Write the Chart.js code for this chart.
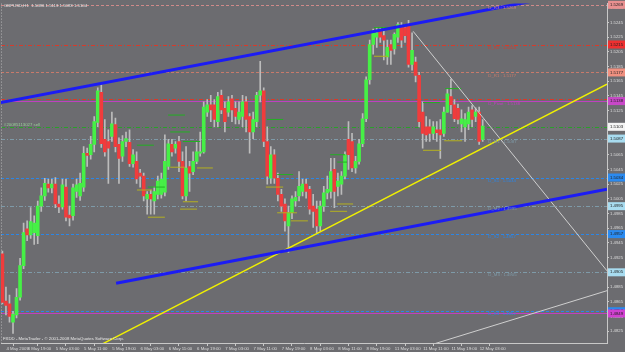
<!DOCTYPE html>
<html>
<head>
<meta charset="utf-8">
<script src="https://cdn.jsdelivr.net/npm/chart.js@4.4.1/dist/chart.umd.min.js"></script>
<style>
  html, body { margin: 0; padding: 0; background: #6c6c70; }
  #wrap { width: 625px; height: 352px; }
</style>
</head>
<body>
<div id="wrap"><canvas id="chart" width="625" height="352"></canvas></div>
<script>
// GBPUSD H1, one entry per hourly bar starting 4 May 2009 13:00
const opens = [1.4930,1.4866,1.4862,1.4837,1.4847,1.4871,1.4914,1.4964,1.4956,1.4959,
  1.4955,1.4995,1.5009,1.5025,1.5020,1.5025,1.4998,1.4994,1.5021,1.4983,
  1.4982,1.5015,1.5009,1.5021,1.5067,1.5065,1.5079,1.5109,1.5150,1.5086,
  1.5083,1.5090,1.5106,1.5079,1.5063,1.5083,1.5082,1.5053,1.5056,1.5040,
  1.5036,1.5005,1.5011,1.5002,1.5011,1.5011,1.5014,1.5049,1.5079,1.5074,
  1.5083,1.5056,1.5009,1.5049,1.5042,1.5056,1.5067,1.5069,1.5123,1.5133,
  1.5133,1.5110,1.5146,1.5128,1.5123,1.5141,1.5128,1.5113,1.5117,1.5137,
  1.5117,1.5096,1.5110,1.5146,1.5152,1.5083,1.5033,1.5065,1.5033,1.5011,
  1.4998,1.4968,1.4986,1.5002,1.5009,1.5015,1.5025,1.5018,1.4995,1.4991,
  1.4968,1.4995,1.5013,1.5015,1.5045,1.5022,1.5025,1.5036,1.5086,1.5083,
  1.5047,1.5056,1.5080,1.5114,1.5167,1.5215,1.5225,1.5233,1.5227,1.5198,
  1.5215,1.5209,1.5225,1.5241,1.5238,1.5242,1.5188,1.5191,1.5173,1.5123,
  1.5103,1.5103,1.5094,1.5099,1.5099,1.5094,1.5123,1.5144,1.5133,1.5128,
  1.5107,1.5103,1.5107,1.5126,1.5117,1.5123,1.5086];
const highs = [1.4934,1.4885,1.4874,1.4852,1.4883,1.4924,1.4972,1.4975,1.4993,1.4982,
  1.5002,1.5020,1.5033,1.5032,1.5032,1.5034,1.5009,1.5032,1.5032,1.4995,
  1.5025,1.5032,1.5040,1.5076,1.5074,1.5090,1.5117,1.5156,1.5160,1.5113,
  1.5099,1.5123,1.5115,1.5088,1.5091,1.5096,1.5099,1.5072,1.5069,1.5045,
  1.5040,1.5015,1.5017,1.5021,1.5036,1.5040,1.5092,1.5086,1.5086,1.5083,
  1.5090,1.5069,1.5076,1.5056,1.5069,1.5083,1.5096,1.5137,1.5140,1.5146,
  1.5140,1.5150,1.5153,1.5137,1.5144,1.5146,1.5137,1.5137,1.5146,1.5144,
  1.5121,1.5123,1.5150,1.5192,1.5156,1.5103,1.5076,1.5072,1.5040,1.5018,
  1.5005,1.4995,1.5009,1.5015,1.5042,1.5032,1.5032,1.5022,1.5011,1.5002,
  1.5002,1.5022,1.5036,1.5060,1.5060,1.5040,1.5042,1.5069,1.5110,1.5094,
  1.5063,1.5086,1.5121,1.5171,1.5221,1.5236,1.5238,1.5238,1.5238,1.5221,
  1.5221,1.5231,1.5245,1.5245,1.5242,1.5248,1.5231,1.5198,1.5177,1.5137,
  1.5117,1.5113,1.5110,1.5110,1.5113,1.5130,1.5155,1.5168,1.5140,1.5134,
  1.5126,1.5121,1.5130,1.5132,1.5129,1.5130,1.5113];
const lows = [1.4862,1.4847,1.4837,1.4822,1.4843,1.4867,1.4910,1.4948,1.4951,1.4943,
  1.4944,1.4988,1.5003,1.5014,1.5013,1.4993,1.4986,1.4991,1.4975,1.4968,
  1.4976,1.5007,1.5003,1.5015,1.5049,1.5059,1.5069,1.5103,1.5075,1.5063,
  1.5026,1.5083,1.5069,1.5026,1.5056,1.5076,1.5049,1.5048,1.5026,1.5021,
  1.5002,1.4984,1.4984,1.4984,1.5005,1.5006,1.5009,1.5045,1.5063,1.5067,
  1.5042,1.5005,1.5002,1.5015,1.5038,1.5053,1.5063,1.5067,1.5117,1.5110,
  1.5103,1.5103,1.5121,1.5096,1.5117,1.5110,1.5107,1.5107,1.5103,1.5096,
  1.5067,1.5087,1.5103,1.5137,1.5076,1.5025,1.5026,1.5026,1.5002,1.4988,
  1.4961,1.4932,1.4978,1.4995,1.5002,1.5009,1.5006,1.4984,1.4966,1.4959,
  1.4961,1.4988,1.5005,1.5006,1.4993,1.5009,1.5011,1.5032,1.5045,1.5042,
  1.5040,1.5052,1.5076,1.5110,1.5161,1.5202,1.5211,1.5218,1.5194,1.5188,
  1.5188,1.5202,1.5218,1.5211,1.5218,1.5184,1.5180,1.5164,1.5103,1.5074,
  1.5083,1.5083,1.5086,1.5083,1.5060,1.5090,1.5123,1.5121,1.5110,1.5107,
  1.5096,1.5083,1.5099,1.5103,1.5110,1.5079,1.5083];
const closes = [1.4864,1.4860,1.4845,1.4848,1.4871,1.4914,1.4959,1.4956,1.4974,1.4972,
  1.4995,1.5009,1.5026,1.5020,1.5025,1.4998,1.4994,1.5024,1.4980,1.4979,
  1.5020,1.5024,1.5026,1.5067,1.5064,1.5079,1.5110,1.5152,1.5080,1.5069,
  1.5074,1.5107,1.5076,1.5060,1.5083,1.5087,1.5053,1.5065,1.5032,1.5036,
  1.5009,1.5011,1.5005,1.5015,1.5029,1.5032,1.5056,1.5080,1.5069,1.5079,
  1.5056,1.5009,1.5047,1.5040,1.5056,1.5069,1.5069,1.5130,1.5133,1.5126,
  1.5113,1.5144,1.5126,1.5110,1.5137,1.5126,1.5117,1.5123,1.5137,1.5113,
  1.5096,1.5113,1.5146,1.5152,1.5083,1.5036,1.5065,1.5033,1.5011,1.4995,
  1.4975,1.4986,1.5005,1.5007,1.5022,1.5025,1.5015,1.4991,1.4988,1.4968,
  1.4995,1.5013,1.5018,1.5042,1.5015,1.5029,1.5036,1.5065,1.5065,1.5047,
  1.5056,1.5080,1.5114,1.5167,1.5215,1.5231,1.5231,1.5225,1.5221,1.5211,
  1.5207,1.5229,1.5242,1.5221,1.5227,1.5188,1.5207,1.5173,1.5110,1.5094,
  1.5092,1.5094,1.5103,1.5095,1.5092,1.5123,1.5148,1.5133,1.5114,1.5113,
  1.5114,1.5113,1.5123,1.5113,1.5123,1.5083,1.5104];

// time axis: bar index of each label
const timeTicks = [0, 6, 14, 22, 30, 38, 46, 54, 62, 70, 78, 86, 94, 102, 110, 118, 126, 134];
const timeLabels = ['4 May 2009', '4 May 19:00', '5 May 03:00', '5 May 11:00', '5 May 19:00',
  '6 May 03:00', '6 May 11:00', '6 May 19:00', '7 May 03:00', '7 May 11:00', '7 May 19:00',
  '8 May 03:00', '8 May 11:00', '8 May 19:00', '11 May 03:00', '11 May 11:00', '11 May 19:00',
  '12 May 03:00'];
const priceTicks = [1.5265, 1.5245, 1.5225, 1.5205, 1.5185, 1.5165, 1.5145, 1.5125, 1.5105,
  1.5085, 1.5065, 1.5045, 1.5025, 1.5005, 1.4985, 1.4965, 1.4945, 1.4925, 1.4905, 1.4885,
  1.4865, 1.4845, 1.4825];

// horizontal levels (pivot / fibo indicator + order line)
const levelPrices = [1.5269, 1.5215, 1.5177, 1.5141, 1.5138, 1.5103, 1.5087, 1.5034, 1.4995, 1.4957, 1.4905, 1.4852, 1.4849];
const levelNames = ['D_R3', 'D_R2', 'D_R1', '', 'D_Pivot', '', 'D_M1', 'D_S1', 'D_M2', 'D_S2', 'D_M3', 'D_S3', ''];

// trend lines as [bar, price, bar, price]
const upperChannel = [-0.5, 1.5136, 172, 1.5294];
const lowerChannel = [32.2, 1.4890, 171.2, 1.5018];
const yellowTrend = [28.5, 1.4808, 171.2, 1.5161];
const grayDown = [116.3, 1.5233, 171.2, 1.4907];
const grayUp = [122.5, 1.4808, 171.2, 1.4880];

// short indicator marks: [fromBar, toBar, price]
const greenMarks = [[38.1, 42.9, 1.5078], [46.9, 51.7, 1.5119], [47.5, 53.1, 1.5096], [51.1, 56, 1.5083],
  [41.2, 46, 1.5021], [74.9, 79.5, 1.5113], [92.8, 97, 1.5065], [94.8, 97.6, 1.5055],
  [77.8, 82.3, 1.5038], [105.2, 110.6, 1.5238], [125.4, 129.9, 1.5155], [119.1, 123.9, 1.5136]];
const oliveMarks = [[55.1, 59.6, 1.5047], [47.5, 51.7, 1.5048], [38.1, 42.4, 1.5017], [51.1, 55.4, 1.5001],
  [50.3, 55.1, 1.4991], [41.2, 46, 1.4980], [74.6, 79.5, 1.5021], [94.8, 99.3, 1.4998],
  [92.8, 97.6, 1.4988], [77.8, 83.4, 1.4986], [81.7, 86.5, 1.4975], [105.2, 109.2, 1.5199],
  [125.1, 130.2, 1.5084], [119.1, 124.2, 1.5071]];

const levelStyles = [
  { color: '#d08a8a', dash: [3, 2], box: '#e89090' },
  { color: '#d83a2a', dash: [4, 2, 1, 2], box: '#ee3030' },
  { color: '#c87a6a', dash: [3, 2], box: '#f09080' },
  { color: '#d83a2a', dash: [4, 2, 1, 2], box: null },
  { color: '#c040c0', dash: [], box: '#c848c8' },
  { color: '#2aa02a', dash: [4, 2, 1, 2], box: '#f4f4f4' },
  { color: '#7e9aa8', dash: [4, 2, 1, 2], box: '#a8dcf0' },
  { color: '#2a86e8', dash: [3, 2], box: '#2a8af0' },
  { color: '#7e9aa8', dash: [4, 2, 1, 2], box: '#a8dcf0' },
  { color: '#2a86e8', dash: [3, 2], box: '#2a8af0' },
  { color: '#7e9aa8', dash: [4, 2, 1, 2], box: '#a8dcf0' },
  { color: '#2a86e8', dash: [3, 2], box: '#2a8af0' },
  { color: '#c040c0', dash: [], box: '#d040d0' }
];

const FONT = 'Liberation Sans';
const SMALL = 4.3;
const bars = opens.map((o, i) => i);
const isUp = bars.map(i => closes[i] >= opens[i]);

function segData(list) {
  const out = [];
  list.forEach(([a, b, p]) => { out.push({ x: a, y: p }, { x: b, y: p }, { x: b, y: null }); });
  return out;
}
function trend(t, color, width) {
  return {
    type: 'line', data: [{ x: t[0], y: t[1] }, { x: t[2], y: t[3] }],
    borderColor: color, borderWidth: width, pointRadius: 0, order: -2
  };
}

const overlay = {
  id: 'overlay',
  beforeDatasetsDraw(chart) {
    const { ctx, chartArea: a, scales: { y } } = chart;
    ctx.save();
    levelPrices.forEach((p, k) => {
      const s = levelStyles[k];
      const py = Math.round(y.getPixelForValue(p)) + 0.5;
      ctx.strokeStyle = s.color;
      ctx.lineWidth = 1;
      ctx.setLineDash(s.dash);
      ctx.beginPath(); ctx.moveTo(a.left, py); ctx.lineTo(a.right, py); ctx.stroke();
    });
    // dotted left frame
    ctx.setLineDash([1, 2]);
    ctx.strokeStyle = '#b4b4b4';
    ctx.beginPath(); ctx.moveTo(a.left + 0.5, a.top); ctx.lineTo(a.left + 0.5, a.bottom); ctx.stroke();
    ctx.restore();
  },
  afterDraw(chart) {
    const { ctx, chartArea: a, scales: { x, y } } = chart;
    ctx.save();
    ctx.font = SMALL + 'px ' + FONT;
    ctx.textBaseline = 'middle';
    // level captions
    const lx = x.getPixelForValue(137.6);
    levelPrices.forEach((p, k) => {
      if (!levelNames[k]) return;
      ctx.fillStyle = levelStyles[k].color;
      ctx.fillText(levelNames[k] + ' : ' + p.toFixed(4), lx, y.getPixelForValue(p) + 3);
    });
    // price tags on the axis
    levelPrices.forEach((p, k) => {
      const s = levelStyles[k];
      if (!s.box) return;
      const py = y.getPixelForValue(p);
      ctx.fillStyle = s.box;
      ctx.fillRect(a.right + 1, py - 4, 625 - a.right - 1, 8);
      ctx.fillStyle = '#202020';
      ctx.fillText(p.toFixed(4), a.right + 3, py);
    });
    // chart texts
    ctx.fillStyle = '#e6e6e6';
    ctx.fillText('GBPUSD,H1  1.5086 1.5113 1.5083 1.5104', 4, 6);
    ctx.fillText('FXDD - MetaTrader - \u00a9 2001-2008 MetaQuotes Software Corp.', 3, 339);
    ctx.fillStyle = '#9ad09a';
    ctx.fillText('#20085113027 sell', 4, y.getPixelForValue(1.5103) - 2);
    ctx.restore();
  }
};

new Chart(document.getElementById('chart'), {
  type: 'bar',
  data: {
    datasets: [
      trend(upperChannel, '#1c1cf4', 3),
      trend(lowerChannel, '#1c1cf4', 3),
      trend(yellowTrend, '#f0f000', 1.5),
      trend(grayDown, '#cfcfcf', 1),
      trend(grayUp, '#cfcfcf', 1),
      { type: 'line', data: segData(greenMarks), borderColor: '#22b022', borderWidth: 1, pointRadius: 0, spanGaps: false, order: -1 },
      { type: 'line', data: segData(oliveMarks), borderColor: '#b4b020', borderWidth: 1, pointRadius: 0, spanGaps: false, order: -1 },
      {
        data: bars.map(i => ({ x: i, y: [opens[i], closes[i]] })),
        backgroundColor: isUp.map(u => u ? '#46f046' : '#f03c3c'),
        barThickness: 3, minBarLength: 1, grouped: false, order: 0
      },
      {
        data: bars.map(i => ({ x: i, y: [lows[i], highs[i]] })),
        backgroundColor: '#bcbcbc',
        barThickness: 1, grouped: false, order: 1
      }
    ]
  },
  options: {
    responsive: false,
    animation: false,
    events: [],
    layout: { padding: { top: 1, left: 1, right: 0, bottom: 0 } },
    plugins: { legend: { display: false }, tooltip: { enabled: false } },
    scales: {
      x: {
        type: 'linear', offset: false, min: -0.4, max: 171.2,
        afterBuildTicks: s => { s.ticks = timeTicks.map(v => ({ value: v })); },
        afterFit: s => { s.height = 9; },
        ticks: {
          autoSkip: false, maxRotation: 0, align: 'start', padding: 0, labelOffset: 4,
          color: '#dcdcdc', font: { family: FONT, size: SMALL },
          callback: (v, i) => timeLabels[i]
        },
        grid: { drawOnChartArea: false, tickLength: 3, color: '#c8c8c8' },
        border: { color: '#c8c8c8' }
      },
      y: {
        position: 'right', min: 1.48088, max: 1.52707,
        afterBuildTicks: s => { s.ticks = priceTicks.map(v => ({ value: v })); },
        afterFit: s => { s.width = 18; },
        ticks: {
          autoSkip: false, padding: 1, color: '#dcdcdc', font: { family: FONT, size: SMALL },
          callback: v => v.toFixed(4)
        },
        grid: { drawOnChartArea: false, tickLength: 2, color: '#c8c8c8' },
        border: { color: '#c8c8c8' }
      }
    }
  },
  plugins: [overlay]
});
</script>
</body>
</html>
